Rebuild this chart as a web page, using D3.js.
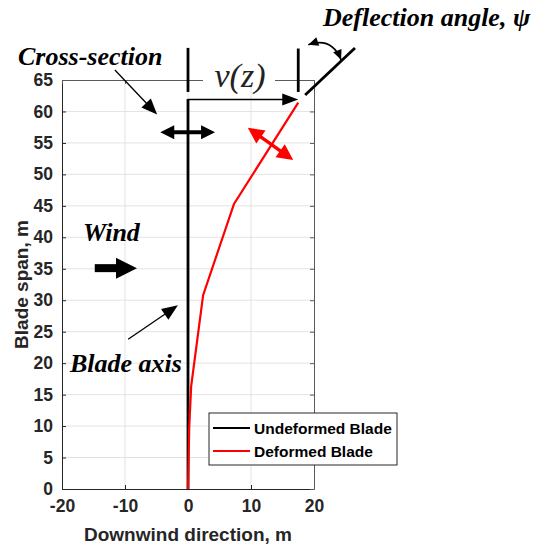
<!DOCTYPE html>
<html>
<head>
<meta charset="utf-8">
<script src="https://cdn.jsdelivr.net/npm/d3@7"></script>
<style>
  body { margin: 0; background: #fff; }
  svg { display: block; }
</style>
</head>
<body>
<div id="chart"></div>
<script>
// blade span (m) and downwind deflection (m)
var spanZ        = [0, 5, 10, 16.3, 30.8, 45.3, 61.4];
var deformedX    = [0, 0.1, 0.2, 0.5, 2.4, 7.3, 17.5];
var undeformedZ  = [0, 62];
var undeformedX  = [0, 0];

var xTicks = [-20, -10, 0, 10, 20];
var yTicks = [0, 5, 10, 15, 20, 25, 30, 35, 40, 45, 50, 55, 60, 65];
var legendLabels = ["Undeformed Blade", "Deformed Blade"];
var legendColors = ["#000000", "#ff0000"];

var W = 537, H = 546;
var margin = {top: 80, right: 223, bottom: 57, left: 62};
var width = W - margin.left - margin.right,
    height = H - margin.top - margin.bottom;

var svg = d3.select("#chart").append("svg")
    .attr("width", W)
    .attr("height", H);

var x = d3.scaleLinear().domain([-20, 20]).range([margin.left, margin.left + width]);
var y = d3.scaleLinear().domain([0, 65]).range([margin.top + height, margin.top]);

var sans = "'Liberation Sans', Arial, sans-serif";
var serif = "'Liberation Serif', 'Times New Roman', serif";

// grid
svg.append("g").selectAll("line").data(xTicks.slice(1, -1)).enter().append("line")
    .attr("x1", d => x(d)).attr("x2", d => x(d))
    .attr("y1", y(0)).attr("y2", y(65))
    .attr("stroke", "#e3e3e3").attr("stroke-width", 1);
svg.append("g").selectAll("line").data(yTicks.slice(1, -1)).enter().append("line")
    .attr("x1", x(-20)).attr("x2", x(20))
    .attr("y1", d => y(d)).attr("y2", d => y(d))
    .attr("stroke", "#e3e3e3").attr("stroke-width", 1);

// axes (MATLAB style, ticks inside, box on)
var fmt = d => String(d);
var axBottom = svg.append("g").attr("transform", "translate(0," + y(0) + ")")
    .call(d3.axisBottom(x).tickValues(xTicks).tickFormat(fmt).tickSizeInner(-4).tickSizeOuter(0).tickPadding(11));
var axLeft = svg.append("g").attr("transform", "translate(" + x(-20) + ",0)")
    .call(d3.axisLeft(y).tickValues(yTicks).tickFormat(fmt).tickSizeInner(-4).tickSizeOuter(0).tickPadding(9));
var axTop = svg.append("g").attr("transform", "translate(0," + y(65) + ")")
    .call(d3.axisTop(x).tickValues(xTicks).tickSizeInner(-4).tickSizeOuter(0).tickFormat(""));
var axRight = svg.append("g").attr("transform", "translate(" + x(20) + ",0)")
    .call(d3.axisRight(y).tickValues(yTicks).tickSizeInner(-4).tickSizeOuter(0).tickFormat(""));

[axBottom, axLeft].forEach(function(g) {
  g.select(".domain").attr("stroke", "#262626").attr("stroke-width", 1);
  g.selectAll(".tick line").attr("stroke", "#262626");
  g.selectAll(".tick text").attr("fill", "#262626")
    .style("font-family", sans).style("font-size", "17.5px").style("font-weight", "bold");
});
[axTop, axRight].forEach(function(g) {
  g.select(".domain").attr("stroke", "#5a5a5a").attr("stroke-width", 1);
  g.selectAll(".tick line").attr("stroke", "#5a5a5a");
});

// axis labels
svg.append("text")
    .attr("x", x(0)).attr("y", 541)
    .attr("text-anchor", "middle")
    .style("font-family", sans).style("font-size", "19px").style("font-weight", "bold")
    .attr("fill", "#262626")
    .text("Downwind direction, m");
svg.append("text")
    .attr("transform", "translate(28," + y(32.5) + ") rotate(-90)")
    .attr("text-anchor", "middle")
    .style("font-family", sans).style("font-size", "19px").style("font-weight", "bold")
    .attr("fill", "#262626")
    .text("Blade span, m");

// blades
var line = d3.line().x(d => x(d[0])).y(d => y(d[1]));
svg.append("path")
    .datum(undeformedX.map((v, i) => [v, undeformedZ[i]]))
    .attr("d", line).attr("fill", "none")
    .attr("stroke", "#000").attr("stroke-width", 2.8);
svg.append("path")
    .datum(deformedX.map((v, i) => [v, spanZ[i]]))
    .attr("d", line).attr("fill", "none")
    .attr("stroke", "#ff0000").attr("stroke-width", 2.2);

// helper: straight arrow in data coords
function arrow(x1, z1, x2, z2, o) {
  var p1 = [x(x1), y(z1)], p2 = [x(x2), y(z2)];
  var dx = p2[0] - p1[0], dy = p2[1] - p1[1];
  var L = Math.sqrt(dx * dx + dy * dy), ux = dx / L, uy = dy / L;
  var g = svg.append("g");
  var s = o.both ? o.head : 0;
  g.append("line")
    .attr("x1", p1[0] + ux * s * 0.8).attr("y1", p1[1] + uy * s * 0.8)
    .attr("x2", p2[0] - ux * o.head * 0.8).attr("y2", p2[1] - uy * o.head * 0.8)
    .attr("stroke", o.color).attr("stroke-width", o.sw);
  function head(tip, dirx, diry) {
    var bx = tip[0] - dirx * o.head, by = tip[1] - diry * o.head;
    var hw = o.hw / 2;
    var pts = [[tip[0], tip[1]], [bx + (-diry) * hw, by + dirx * hw], [bx - (-diry) * hw, by - dirx * hw]];
    g.append("polygon").attr("points", pts.map(p => p.join(",")).join(" ")).attr("fill", o.color);
  }
  head(p2, ux, uy);
  if (o.both) head(p1, -ux, -uy);
}

// v(z) dimension
svg.append("rect").attr("x", 203).attr("y", y(65) - 3).attr("width", 72).attr("height", 6).attr("fill", "#fff");
svg.append("line").attr("x1", x(0)).attr("x2", x(0)).attr("y1", y(70.1)).attr("y2", y(63.1))
    .attr("stroke", "#000").attr("stroke-width", 2.8);
svg.append("line").attr("x1", x(17.5)).attr("x2", x(17.5)).attr("y1", y(70.0)).attr("y2", y(63.1))
    .attr("stroke", "#000").attr("stroke-width", 2.8);
arrow(0, 61.9, 17.5, 61.9, {color: "#000", sw: 1.5, head: 16, hw: 12});
svg.append("text").attr("x", 240).attr("y", 87).attr("text-anchor", "middle")
    .style("font-family", serif).style("font-size", "34px").style("font-style", "italic")
    .attr("fill", "#222").text("v(z)");

// deflection angle line and curved arrow
svg.append("line").attr("x1", x(18.6)).attr("y1", y(62.6)).attr("x2", x(26.5)).attr("y2", y(70.1))
    .attr("stroke", "#000").attr("stroke-width", 2.8);
(function() {
  var a = [x(19.1), y(70.6)], c = [x(22.8), y(71.9)], b = [x(24.3), y(68.2)];
  svg.append("path")
    .attr("d", "M" + a + " Q" + c + " " + b)
    .attr("fill", "none").attr("stroke", "#000").attr("stroke-width", 1.5);
  function head(tip, from) {
    var dx = tip[0] - from[0], dy = tip[1] - from[1], L = Math.sqrt(dx * dx + dy * dy);
    var ux = dx / L, uy = dy / L, hl = 10, hw = 4.5;
    var bx = tip[0] - ux * hl, by = tip[1] - uy * hl;
    svg.append("polygon")
      .attr("points", [[tip[0], tip[1]], [bx - uy * hw, by + ux * hw], [bx + uy * hw, by - ux * hw]].map(p => p.join(",")).join(" "))
      .attr("fill", "#000");
  }
  head(a, c);
  head(b, c);
})();

var annoFont = function(sel) {
  return sel.style("font-family", serif).style("font-size", "26px")
    .style("font-style", "italic").style("font-weight", "bold").attr("fill", "#000");
};
svg.append("text").attr("x", 323).attr("y", 26).call(annoFont).text("Deflection angle, ψ");

// cross-section
svg.append("text").attr("x", 18).attr("y", 65).call(annoFont).text("Cross-section");
arrow(-11.6, 66.6, -4.9, 59.5, {color: "#000", sw: 1.3, head: 16, hw: 13});
arrow(-4.4, 56.7, 4.3, 56.7, {color: "#000", sw: 4, head: 14, hw: 14, both: true});
arrow(9.5, 57.4, 16.7, 52.3, {color: "#ff0000", sw: 3.4, head: 16, hw: 16, both: true});

// wind
svg.append("text").attr("x", 83).attr("y", 241).call(annoFont).text("Wind");
arrow(-14.8, 35.1, -8.1, 35.1, {color: "#000", sw: 8, head: 21, hw: 21});

// blade axis
svg.append("text").attr("x", 70).attr("y", 372).call(annoFont).text("Blade axis");
arrow(-9.5, 23.8, -1.6, 29.2, {color: "#000", sw: 1.3, head: 16, hw: 13});

// legend
var lg = svg.append("g").attr("transform", "translate(209,413)");
lg.append("rect").attr("width", 188).attr("height", 52)
    .attr("fill", "#fff").attr("stroke", "#262626").attr("stroke-width", 1);
legendLabels.forEach(function(lab, i) {
  var yy = 15 + i * 23;
  lg.append("line").attr("x1", 4).attr("x2", 41).attr("y1", yy).attr("y2", yy)
    .attr("stroke", legendColors[i]).attr("stroke-width", 2.2);
  lg.append("text").attr("x", 45).attr("y", yy + 5.5)
    .style("font-family", sans).style("font-size", "15.5px").style("font-weight", "bold")
    .attr("fill", "#000").text(lab);
});
</script>
</body>
</html>
